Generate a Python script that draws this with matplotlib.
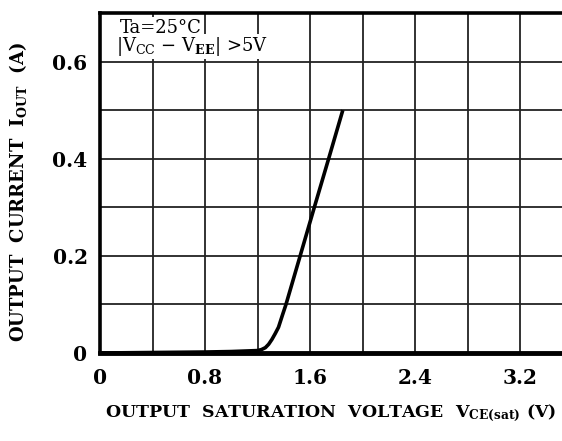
import numpy as np
import matplotlib.pyplot as plt

# curve (V_CE(sat) in V, I_OUT in A)
vce = [0.0, 0.4, 0.8, 1.0, 1.2, 1.23, 1.26, 1.285, 1.31, 1.335, 1.36, 1.39, 1.417, 1.525, 1.633, 1.742, 1.85]
iout = [0.0, 0.001, 0.002, 0.003, 0.005, 0.007, 0.011, 0.018, 0.028, 0.040, 0.053, 0.078, 0.10, 0.20, 0.30, 0.40, 0.50]

xticks = [0, 0.8, 1.6, 2.4, 3.2]
xtick_labels = ['0', '0.8', '1.6', '2.4', '3.2']
yticks = [0, 0.2, 0.4, 0.6]
ytick_labels = ['0', '0.2', '0.4', '0.6']

plt.rcParams['font.family'] = 'DejaVu Serif'
plt.rcParams['mathtext.fontset'] = 'dejavuserif'

fig = plt.figure(figsize=(5.62, 4.41), dpi=100)
ax = fig.add_axes([100 / 562, (441 - 353) / 441, 462 / 562, 340 / 441])

ax.plot(vce, iout, color='black', lw=2.6, solid_capstyle='butt',
        solid_joinstyle='round', zorder=3)

ax.set_xlim(0, 3.52)
ax.set_ylim(0, 0.70)

# grid
for gx in np.arange(0.4, 3.5, 0.4):
    ax.axvline(gx, color='#222222', lw=1.3, zorder=1)
for gy in np.arange(0.1, 0.65, 0.1):
    ax.axhline(gy, color='#222222', lw=1.3, zorder=1)

for s in ['left', 'top']:
    ax.spines[s].set_linewidth(2.6)
ax.spines['bottom'].set_linewidth(3.5)
ax.spines['right'].set_visible(False)

ax.set_xticks(xticks)
ax.set_xticklabels(xtick_labels, fontsize=14.5, fontweight='bold')
ax.set_yticks(yticks)
ax.set_yticklabels(ytick_labels, fontsize=14.5, fontweight='bold')
ax.tick_params(axis='x', length=0, pad=11)
ax.tick_params(axis='y', length=0, pad=9)

fig.text(331 / 562, (441 - 413) / 441,
         r'OUTPUT  SATURATION  VOLTAGE  $\mathbf{V_{CE(sat)}}$ (V)',
         ha='center', va='center', fontsize=12.5, fontweight='bold')
fig.text(18 / 562, (441 - 192) / 441,
         r'OUTPUT  CURRENT  $\mathbf{I_{OUT}}$  (A)',
         ha='center', va='center', rotation=90, fontsize=13, fontweight='bold')

ax.text(0.15, 0.670, 'Ta=25°C', fontsize=13, ha='left', va='center',
        bbox=dict(facecolor='white', edgecolor='none', pad=1), zorder=4)
ax.text(0.12, 0.631, r'|V$_{\mathregular{CC}}$ − V$_{\mathbf{EE}}$| >5V', fontsize=13,
        ha='left', va='center',
        bbox=dict(facecolor='white', edgecolor='none', pad=1), zorder=4)

fig.savefig('out.png', dpi=100)
